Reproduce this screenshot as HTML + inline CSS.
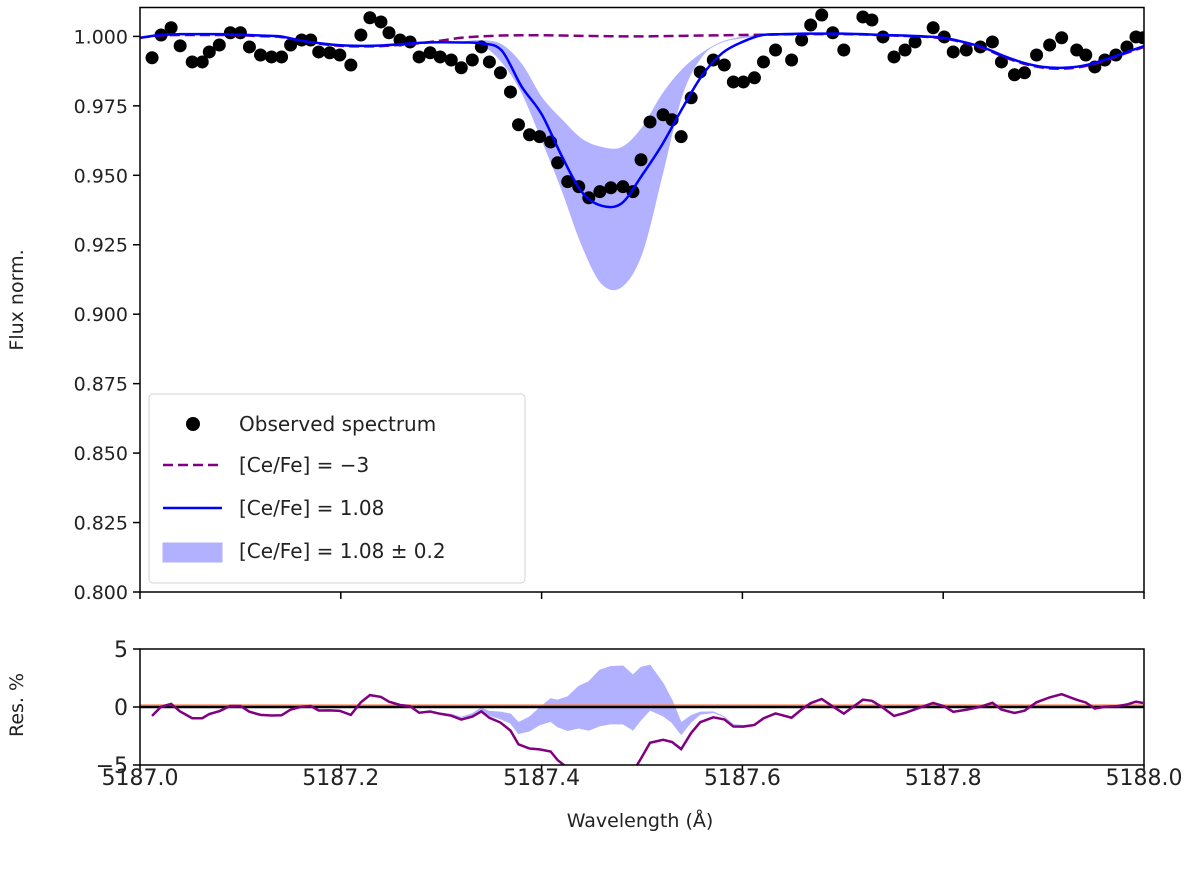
<!DOCTYPE html>
<html><head><meta charset="utf-8"><style>
body{margin:0;background:#fff}
svg{display:block;font-family:"DejaVu Sans","Liberation Sans",sans-serif}
</style></head><body>
<svg id="chart" width="1200" height="869" viewBox="0 0 1200 869"></svg>
<script>
const obsWave=[5187.012,5187.021,5187.031,5187.040,5187.052,5187.062,5187.069,5187.079,5187.090,5187.100,5187.109,5187.120,5187.131,5187.141,5187.150,5187.161,5187.170,5187.178,5187.189,5187.199,5187.210,5187.220,5187.229,5187.240,5187.248,5187.259,5187.269,5187.278,5187.289,5187.299,5187.310,5187.320,5187.331,5187.340,5187.348,5187.359,5187.369,5187.377,5187.388,5187.398,5187.409,5187.416,5187.426,5187.437,5187.447,5187.458,5187.469,5187.481,5187.491,5187.499,5187.508,5187.521,5187.530,5187.539,5187.549,5187.558,5187.571,5187.582,5187.591,5187.601,5187.612,5187.621,5187.633,5187.649,5187.659,5187.668,5187.679,5187.690,5187.701,5187.720,5187.729,5187.740,5187.751,5187.762,5187.772,5187.790,5187.801,5187.810,5187.823,5187.837,5187.849,5187.858,5187.871,5187.881,5187.893,5187.906,5187.918,5187.933,5187.942,5187.951,5187.961,5187.972,5187.983,5187.992,5187.999];
const obsFlux=[0.9923,1.0005,1.0031,0.9966,0.9908,0.9908,0.9944,0.9969,1.0013,1.0013,0.9962,0.9933,0.9926,0.9926,0.9969,0.9987,0.9987,0.9944,0.9941,0.9933,0.9897,1.0005,1.0067,1.0052,1.0013,0.9987,0.9980,0.9926,0.9941,0.9926,0.9915,0.9887,0.9915,0.9962,0.9908,0.9869,0.9800,0.9682,0.9646,0.9639,0.9620,0.9545,0.9477,0.9459,0.9419,0.9441,0.9455,0.9459,0.9441,0.9556,0.9692,0.9718,0.9700,0.9639,0.9779,0.9872,0.9915,0.9897,0.9836,0.9836,0.9851,0.9908,0.9951,0.9915,0.9987,1.0041,1.0077,1.0013,0.9951,1.0070,1.0059,0.9998,0.9926,0.9951,0.9980,1.0031,0.9998,0.9944,0.9951,0.9962,0.9980,0.9908,0.9862,0.9869,0.9933,0.9969,0.9995,0.9951,0.9933,0.9890,0.9915,0.9933,0.9962,0.9998,0.9995];
const modelWave=[5187.00,5187.02,5187.04,5187.06,5187.08,5187.10,5187.12,5187.14,5187.16,5187.18,5187.20,5187.22,5187.24,5187.26,5187.28,5187.30,5187.32,5187.34,5187.36,5187.38,5187.40,5187.42,5187.44,5187.46,5187.48,5187.50,5187.52,5187.54,5187.56,5187.58,5187.60,5187.62,5187.64,5187.66,5187.68,5187.70,5187.72,5187.74,5187.76,5187.78,5187.80,5187.82,5187.84,5187.86,5187.88,5187.90,5187.92,5187.94,5187.96,5187.98,5188.00];
const fitFlux=[0.9995,1.0005,1.0008,1.0008,1.0008,1.0006,1.0003,1.0000,0.9985,0.9975,0.9968,0.9966,0.9967,0.9972,0.9977,0.9979,0.9978,0.9975,0.9950,0.9820,0.9720,0.9570,0.9440,0.9390,0.9400,0.9500,0.9610,0.9740,0.9860,0.9940,0.9980,1.0005,1.0008,1.0010,1.0010,1.0010,1.0008,1.0005,1.0003,1.0000,0.9995,0.9980,0.9960,0.9930,0.9905,0.9890,0.9887,0.9895,0.9915,0.9940,0.9965];
const upperFlux=[0.9995,1.0005,1.0008,1.0008,1.0008,1.0006,1.0003,1.0000,0.9985,0.9975,0.9968,0.9966,0.9967,0.9972,0.9977,0.9979,0.9980,0.9985,0.9970,0.9900,0.9780,0.9700,0.9630,0.9600,0.9600,0.9670,0.9790,0.9880,0.9940,0.9980,0.9998,1.0005,1.0008,1.0010,1.0010,1.0010,1.0008,1.0005,1.0003,1.0000,0.9995,0.9980,0.9960,0.9930,0.9905,0.9890,0.9887,0.9895,0.9915,0.9940,0.9965];
const lowerFlux=[0.9995,1.0005,1.0008,1.0008,1.0008,1.0006,1.0003,1.0000,0.9985,0.9975,0.9968,0.9966,0.9967,0.9972,0.9977,0.9979,0.9976,0.9970,0.9910,0.9800,0.9630,0.9450,0.9250,0.9110,0.9100,0.9220,0.9500,0.9790,0.9930,0.9980,0.9995,1.0005,1.0008,1.0010,1.0010,1.0010,1.0008,1.0005,1.0003,1.0000,0.9995,0.9980,0.9960,0.9930,0.9905,0.9890,0.9887,0.9895,0.9915,0.9940,0.9965];
const noCeFlux=[0.9995,1.0003,1.0005,1.0005,1.0005,1.0004,1.0001,0.9998,0.9985,0.9973,0.9966,0.9964,0.9965,0.9970,0.9976,0.9985,0.9995,1.0000,1.0003,1.0004,1.0004,1.0003,1.0002,1.0001,1.0000,1.0000,1.0001,1.0002,1.0003,1.0004,1.0005,1.0006,1.0007,1.0008,1.0008,1.0008,1.0007,1.0004,1.0002,0.9999,0.9993,0.9978,0.9957,0.9927,0.9902,0.9887,0.9884,0.9892,0.9912,0.9937,0.9962];
const yTicksTop=[1.000,0.975,0.950,0.925,0.900,0.875,0.850,0.825,0.800];
const yTicksRes=[5,0,-5];
const xTicks=[5187.0,5187.2,5187.4,5187.6,5187.8,5188.0];

const NS="http://www.w3.org/2000/svg";
const svg=document.getElementById('chart');
function el(tag,attrs,parent){const e=document.createElementNS(NS,tag);for(const k in attrs)e.setAttribute(k,attrs[k]);(parent||svg).appendChild(e);return e;}
const L=140,R=1144,T1=7.5,B1=592,T2=649,B2=765;
const x=w=>L+(w-5187.0)/1.0*(R-L);
const y1=f=>B1-(f-0.800)/(1.0104-0.800)*(B1-T1);
const y2=r=>707-r*(B2-707)/5;
function interp(arr,w){let i=Math.min(Math.max(Math.floor((w-5187)/0.02),0),arr.length-2);const t=(w-modelWave[i])/(modelWave[i+1]-modelWave[i]);return arr[i]+(arr[i+1]-arr[i])*t;}
// Catmull-Rom smooth path through points (no leading M)
function smooth(pts){let d='';for(let i=0;i<pts.length-1;i++){const p0=pts[Math.max(i-1,0)],p1=pts[i],p2=pts[i+1],p3=pts[Math.min(i+2,pts.length-1)];
const c1x=p1[0]+(p2[0]-p0[0])/6,c1y=p1[1]+(p2[1]-p0[1])/6,c2x=p2[0]-(p3[0]-p1[0])/6,c2y=p2[1]-(p3[1]-p1[1])/6;
d+=`C${c1x.toFixed(2)},${c1y.toFixed(2)} ${c2x.toFixed(2)},${c2y.toFixed(2)} ${p2[0].toFixed(2)},${p2[1].toFixed(2)}`;}return d;}
function modelPts(arr){return modelWave.map((w,i)=>[x(w),y1(arr[i])]);}

const defs=el('defs',{});
const c1=el('clipPath',{id:'c1'},defs);el('rect',{x:L,y:T1,width:R-L,height:B1-T1},c1);
const c2=el('clipPath',{id:'c2'},defs);el('rect',{x:L,y:T2,width:R-L,height:B2-T2},c2);

const g1=el('g',{'clip-path':'url(#c1)'});


const up=modelPts(upperFlux), lo=modelPts(lowerFlux).reverse();
let bandD='M'+up[0][0]+','+up[0][1]+smooth(up)+'L'+lo[0][0]+','+lo[0][1]+smooth(lo)+'Z';
const band=el('path',{d:bandD,fill:'#0000ff',opacity:0.3,stroke:'#0000ff','stroke-width':1},g1);


obsWave.forEach((w,i)=>{const c=el('circle',{cx:x(w),cy:y1(obsFlux[i]),r:6.5,fill:'#000'},g1);

});
const np=modelPts(noCeFlux);
const dashed=el('path',{d:'M'+np[0][0]+','+np[0][1]+smooth(np),fill:'none',stroke:'#800080','stroke-width':2.5,'stroke-dasharray':'10,5'},g1);


const fp=modelPts(fitFlux);
const fit=el('path',{d:'M'+fp[0][0]+','+fp[0][1]+smooth(fp),fill:'none',stroke:'#0000ff','stroke-width':2.5},g1);


const f1=el('rect',{x:L,y:T1,width:R-L,height:B1-T1,fill:'none',stroke:'#000','stroke-width':1.5});


yTicksTop.forEach(v=>{el('line',{x1:L-7,x2:L,y1:y1(v),y2:y1(v),stroke:'#000','stroke-width':1.5});
const t=el('text',{x:L-12,y:y1(v)+7,'text-anchor':'end','font-size':19,fill:'#222'});t.textContent=v.toFixed(3);

});
xTicks.forEach(v=>el('line',{x1:x(v),x2:x(v),y1:B1,y2:B1+7,stroke:'#000','stroke-width':1.5}));
const yl=el('text',{x:0,y:0,transform:'translate(23,300) rotate(-90)','text-anchor':'middle','font-size':19,fill:'#222'});yl.textContent='Flux norm.';



const lg=el('g',{});


el('rect',{x:149,y:394,width:376,height:189,rx:4,fill:'#fff',opacity:0.85,stroke:'#ccc'},lg);
const items=[['Observed spectrum',424],['[Ce/Fe] = −3',465],['[Ce/Fe] = 1.08',508],['[Ce/Fe] = 1.08 ± 0.2',551]];
el('circle',{cx:193,cy:424,r:7,fill:'#000'},lg);
el('line',{x1:163,x2:222,y1:465,y2:465,stroke:'#800080','stroke-width':2.5,'stroke-dasharray':'10,5'},lg);
el('line',{x1:163,x2:222,y1:508,y2:508,stroke:'#0000ff','stroke-width':2.5},lg);
el('rect',{x:163,y:543,width:59,height:19,fill:'#0000ff',opacity:0.3,stroke:'#0000ff'},lg);
items.forEach(it=>{const t=el('text',{x:239,y:it[1]+7,'font-size':20,fill:'#222'},lg);t.textContent=it[0];

});

const g2=el('g',{'clip-path':'url(#c2)'});


const rU=obsWave.map((w,i)=>(obsFlux[i]-interp(upperFlux,w))*100);
const rL=obsWave.map((w,i)=>(obsFlux[i]-interp(lowerFlux,w))*100);
const rN=obsWave.map((w,i)=>(obsFlux[i]-interp(noCeFlux,w))*100);
let rb='M'+obsWave.map((w,i)=>x(w)+','+y2(rU[i])).join('L');
for(let i=obsWave.length-1;i>=0;i--)rb+='L'+x(obsWave[i])+','+y2(rL[i]);
const rband=el('path',{d:rb+'Z',fill:'#0000ff',opacity:0.3,stroke:'#0000ff','stroke-width':1},g2);


el('line',{x1:L,x2:R,y1:y2(0)-2,y2:y2(0)-2,stroke:'#ff7f50','stroke-width':1.2},g2);
const zl=el('line',{x1:L,x2:R,y1:y2(0),y2:y2(0),stroke:'#000','stroke-width':2.5},g2);


const rl=el('path',{d:'M'+obsWave.map((w,i)=>x(w)+','+y2(rN[i])).join('L'),fill:'none',stroke:'#800080','stroke-width':2.5},g2);


const f2=el('rect',{x:L,y:T2,width:R-L,height:B2-T2,fill:'none',stroke:'#000','stroke-width':1.5});


yTicksRes.forEach(v=>{el('line',{x1:L-7,x2:L,y1:y2(v),y2:y2(v),stroke:'#000','stroke-width':1.5});
const t=el('text',{x:L-12,y:y2(v)+8,'text-anchor':'end','font-size':22,fill:'#222'});t.textContent=v<0?'−'+(-v):String(v);

});
xTicks.forEach(v=>{el('line',{x1:x(v),x2:x(v),y1:B2,y2:B2+7,stroke:'#000','stroke-width':1.5});
const t=el('text',{x:x(v),y:785,'text-anchor':'middle','font-size':22,fill:'#222'});t.textContent=v.toFixed(1);

});
const rlab=el('text',{x:0,y:0,transform:'translate(23,705) rotate(-90)','text-anchor':'middle','font-size':19,fill:'#222'});rlab.textContent='Res. %';


const xl=el('text',{x:640,y:827,'text-anchor':'middle','font-size':19,fill:'#222'});xl.textContent='Wavelength (Å)';


</script>
</body></html>
